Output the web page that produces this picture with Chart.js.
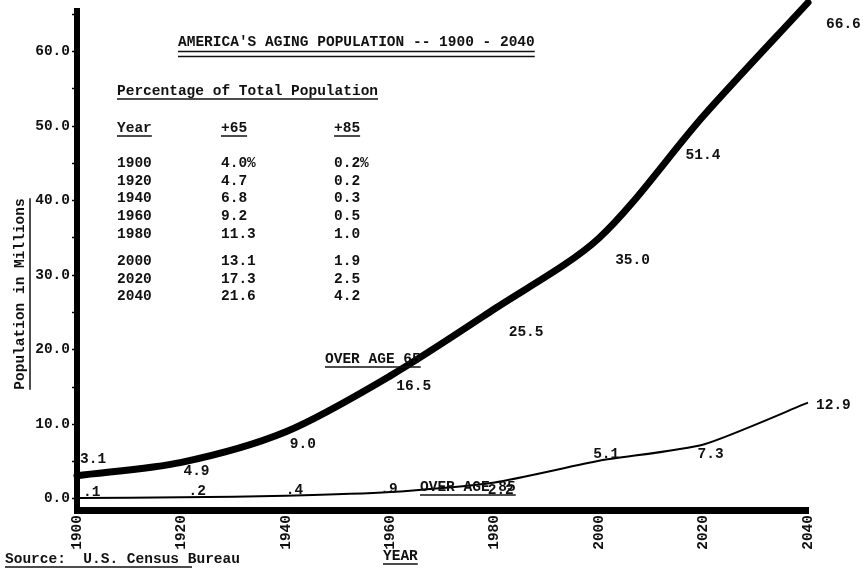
<!DOCTYPE html>
<html>
<head>
<meta charset="utf-8">
<script src="https://cdn.jsdelivr.net/npm/chart.js@4"></script>
<style>
  html, body { margin: 0; padding: 0; background: #fff; }
</style>
</head>
<body>
<canvas id="myChart" width="863" height="570"></canvas>
<script>
// data (population in millions)
const years = [1900, 1920, 1940, 1960, 1980, 2000, 2020, 2040];
const over65 = [3.1, 4.9, 9.0, 16.5, 25.5, 35.0, 51.4, 66.6];
const over85 = [0.1, 0.2, 0.4, 0.9, 2.2, 5.1, 7.3, 12.9];
const over65Text = ["3.1", "4.9", "9.0", "16.5", "25.5", "35.0", "51.4", "66.6"];
const over85Text = [".1", ".2", ".4", ".9", "2.2", "5.1", "7.3", "12.9"];

// percentage of total population table
const pctYears = ["1900", "1920", "1940", "1960", "1980", "2000", "2020", "2040"];
const pct65 = ["4.0%", "4.7", "6.8", "9.2", "11.3", "13.1", "17.3", "21.6"];
const pct85 = ["0.2%", "0.2", "0.3", "0.5", "1.0", "1.9", "2.5", "4.2"];

const FONT = 'bold 14.5px "Liberation Mono", "DejaVu Sans Mono", monospace';
const INK = "#111";

// where each value label sits relative to its point
const off65 = [[3, -16], [2, 9], [4, 13], [6, 10], [14, 24], [16, 22], [-18, 40], [18, 22]];
const off85 = [[6, -6], [7, -6], [0, -5], [-10, -3], [-7, 8], [-6, -6], [-6, 10], [8, 3]];

function ul(ctx, x1, x2, y, w) {
  ctx.save();
  ctx.strokeStyle = INK;
  ctx.lineWidth = w || 1.5;
  ctx.beginPath();
  ctx.moveTo(x1, y);
  ctx.lineTo(x2, y);
  ctx.stroke();
  ctx.restore();
}

function txt(ctx, s, x, y, underline) {
  ctx.fillText(s, x, y);
  if (underline) {
    const w = ctx.measureText(s).width;
    ul(ctx, x, x + w, y + 8);
  }
}

const typedText = {
  id: "typedText",
  afterDraw(chart) {
    const ctx = chart.ctx;
    ctx.save();
    ctx.font = FONT;
    ctx.fillStyle = INK;
    ctx.textAlign = "left";
    ctx.textBaseline = "middle";

    // value labels next to the points
    [[0, over65Text, off65], [1, over85Text, off85]].forEach(([di, labels, offs]) => {
      const meta = chart.getDatasetMeta(di);
      meta.data.forEach((pt, i) => {
        ctx.fillText(labels[i], pt.x + offs[i][0], pt.y + offs[i][1]);
      });
    });

    // title, double underlined
    const title = "AMERICA'S AGING POPULATION -- 1900 - 2040";
    ctx.fillText(title, 178, 42);
    const tw = ctx.measureText(title).width;
    ul(ctx, 178, 178 + tw, 51.5);
    ul(ctx, 178, 178 + tw, 56.5);

    txt(ctx, "Percentage of Total Population", 117, 91, true);
    txt(ctx, "Year", 117, 128, true);
    txt(ctx, "+65", 221, 128, true);
    txt(ctx, "+85", 334, 128, true);
    const rowY = [163, 181, 198, 216, 234, 261, 279, 296];
    pctYears.forEach((y, i) => {
      ctx.fillText(y, 117, rowY[i]);
      ctx.fillText(pct65[i], 221, rowY[i]);
      ctx.fillText(pct85[i], 334, rowY[i]);
    });

    txt(ctx, "OVER AGE 65", 325, 359, true);
    txt(ctx, "OVER AGE 85", 420, 487, true);
    txt(ctx, "YEAR", 383, 556, true);
    ctx.fillText("Source:  U.S. Census Bureau", 5, 559);
    ul(ctx, 5, 192, 567);

    // y axis title, rotated
    ctx.save();
    ctx.translate(20, 294);
    ctx.rotate(-Math.PI / 2);
    ctx.textAlign = "center";
    const yt = "Population in Millions";
    ctx.fillText(yt, 0, 0);
    const yw = ctx.measureText(yt).width;
    ul(ctx, -yw / 2, yw / 2, 10);
    ctx.restore();

    ctx.restore();
  }
};

const tickFont = { family: '"Liberation Mono"', size: 14.5, weight: "bold" };

new Chart(document.getElementById("myChart"), {
  type: "line",
  data: {
    labels: years,
    datasets: [
      {
        label: "Over age 65",
        data: years.map((y, i) => ({ x: y, y: over65[i] })),
        borderColor: "#000",
        borderWidth: 7,
        pointRadius: 0,
        tension: 0.3,
        borderCapStyle: "round",
        clip: false
      },
      {
        label: "Over age 85",
        data: years.map((y, i) => ({ x: y, y: over85[i] })),
        borderColor: "#000",
        borderWidth: 2,
        pointRadius: 0,
        tension: 0.2,
        clip: false
      }
    ]
  },
  options: {
    responsive: false,
    animation: false,
    layout: { padding: { top: 0, right: 55, left: 0, bottom: 0 } },
    plugins: { legend: { display: false }, tooltip: { enabled: false } },
    scales: {
      x: {
        type: "linear",
        min: 1900,
        max: 2040,
        afterFit: (s) => { s.height = 60; },
        border: { display: true, color: "#000", width: 7 },
        grid: { display: false, drawTicks: false },
        ticks: {
          stepSize: 20,
          autoSkip: false,
          minRotation: 90,
          maxRotation: 90,
          padding: 5,
          color: INK,
          font: tickFont,
          callback: (v) => String(v)
        }
      },
      y: {
        min: -1.5,
        max: 65.5,
        afterFit: (s) => { s.width = 77; },
        border: { display: true, color: "#000", width: 6 },
        grid: { display: true, drawOnChartArea: false, drawTicks: true, tickLength: 5, tickColor: "#000", tickWidth: 1.5 },
        ticks: {
          stepSize: 5,
          includeBounds: false,
          padding: 2,
          color: INK,
          font: tickFont,
          callback: (v) => (v % 10 === 0 ? v.toFixed(1) : "")
        }
      }
    }
  },
  plugins: [typedText]
});
</script>
</body>
</html>
